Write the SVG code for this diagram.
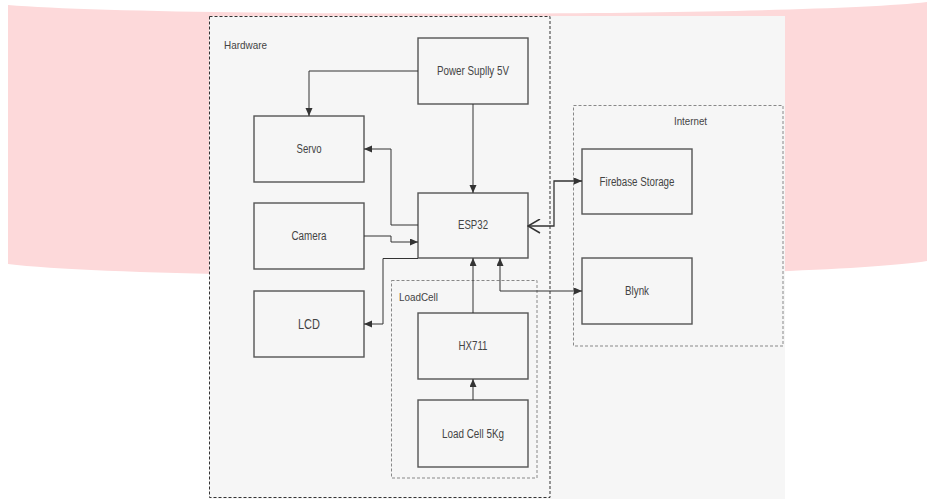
<svg xmlns="http://www.w3.org/2000/svg" width="927" height="499" viewBox="0 0 927 499">
<defs>
<style>
.node rect{fill:#f6f6f6;stroke:#555;stroke-width:1.4}
.lbl{font-family:"Liberation Sans",Arial,sans-serif;font-size:12px;fill:#444;text-anchor:middle;dominant-baseline:central}
.glbl{font-family:"Liberation Sans",Arial,sans-serif;font-size:11px;fill:#444;dominant-baseline:central}
.grp{fill:none;stroke:#888;stroke-width:1;stroke-dasharray:3 2}
.conn path{fill:none;stroke:#333;stroke-width:1}
</style>
<marker id="arr" markerUnits="userSpaceOnUse" markerWidth="9" markerHeight="8" refX="8" refY="3.5" orient="auto-start-reverse">
<path d="M0,0 L8,3.5 L0,7 z" fill="#333"/>
</marker>
<marker id="open" markerUnits="userSpaceOnUse" markerWidth="14" markerHeight="16" refX="1" refY="7.5" orient="auto">
<path d="M13,0.5 L1,7.5 L13,14.5" fill="none" stroke="#333" stroke-width="1.5"/>
</marker>
</defs>
<rect x="0" y="0" width="927" height="499" fill="#ffffff"/>
<path d="M8,5 C150,17 800,17 927,2 L927,261 C800,281 150,281 8,264 Z" fill="#fdd9da"/>
<rect x="209" y="16" width="576" height="483" fill="#f6f6f6"/>

<g id="hardware">
<rect x="209.5" y="16.5" width="340.5" height="481" fill="none" stroke="#333" stroke-width="1" stroke-dasharray="3 2"/>
<text class="glbl" x="224" y="45" textLength="43" lengthAdjust="spacingAndGlyphs">Hardware</text>
</g>
<g id="loadcell-group">
<rect class="grp" x="391.5" y="280.5" width="145.5" height="197.5"/>
<text class="glbl" x="399" y="297" textLength="39" lengthAdjust="spacingAndGlyphs">LoadCell</text>
</g>
<g id="internet">
<rect class="grp" x="573.5" y="105.5" width="209.5" height="240.5"/>
<text class="glbl" x="674" y="121" textLength="33" lengthAdjust="spacingAndGlyphs">Internet</text>
</g>

<g id="power" class="node"><rect x="418" y="38" width="110" height="66"/><text class="lbl" x="473" y="71" textLength="72" lengthAdjust="spacingAndGlyphs">Power Suplly 5V</text></g>
<g id="servo" class="node"><rect x="254" y="116" width="110" height="66"/><text class="lbl" x="309" y="149" textLength="25" lengthAdjust="spacingAndGlyphs">Servo</text></g>
<g id="esp32" class="node"><rect x="418" y="193" width="110" height="65"/><text class="lbl" x="473" y="225" textLength="30" lengthAdjust="spacingAndGlyphs">ESP32</text></g>
<g id="camera" class="node"><rect x="254" y="203" width="110" height="66"/><text class="lbl" x="309" y="236" textLength="35" lengthAdjust="spacingAndGlyphs">Camera</text></g>
<g id="lcd" class="node"><rect x="254" y="291" width="110" height="66"/><text class="lbl" x="309" y="324" style="font-size:14px" textLength="22" lengthAdjust="spacingAndGlyphs">LCD</text></g>
<g id="hx711" class="node"><rect x="418" y="313" width="110" height="66"/><text class="lbl" x="473" y="346" textLength="29" lengthAdjust="spacingAndGlyphs">HX711</text></g>
<g id="loadcell5kg" class="node"><rect x="418" y="400" width="110" height="67"/><text class="lbl" x="473" y="434" textLength="62" lengthAdjust="spacingAndGlyphs">Load Cell 5Kg</text></g>
<g id="firebase" class="node"><rect x="582" y="149" width="110" height="65"/><text class="lbl" x="637" y="182" textLength="75" lengthAdjust="spacingAndGlyphs">Firebase Storage</text></g>
<g id="blynk" class="node"><rect x="582" y="258" width="110" height="66"/><text class="lbl" x="637" y="291" textLength="24" lengthAdjust="spacingAndGlyphs">Blynk</text></g>

<g id="connectors" class="conn">
<path d="M418,71 H309 V116" marker-end="url(#arr)"/>
<path d="M473,104 V193" marker-end="url(#arr)"/>
<path d="M418,225 H391 V149 H364" marker-end="url(#arr)"/>
<path d="M364,236 H391 V242 H418" marker-end="url(#arr)"/>
<path d="M418,258.5 H383 V324 H364" marker-end="url(#arr)"/>
<path d="M473,313 V258" marker-end="url(#arr)"/>
<path d="M473,400 V379" marker-end="url(#arr)"/>
<path d="M500,258 V291 H582" marker-start="url(#arr)" marker-end="url(#arr)"/>
<path d="M528,226 H554 V181 H582" style="stroke-width:1.3" marker-start="url(#open)" marker-end="url(#arr)"/>
</g>
</svg>
